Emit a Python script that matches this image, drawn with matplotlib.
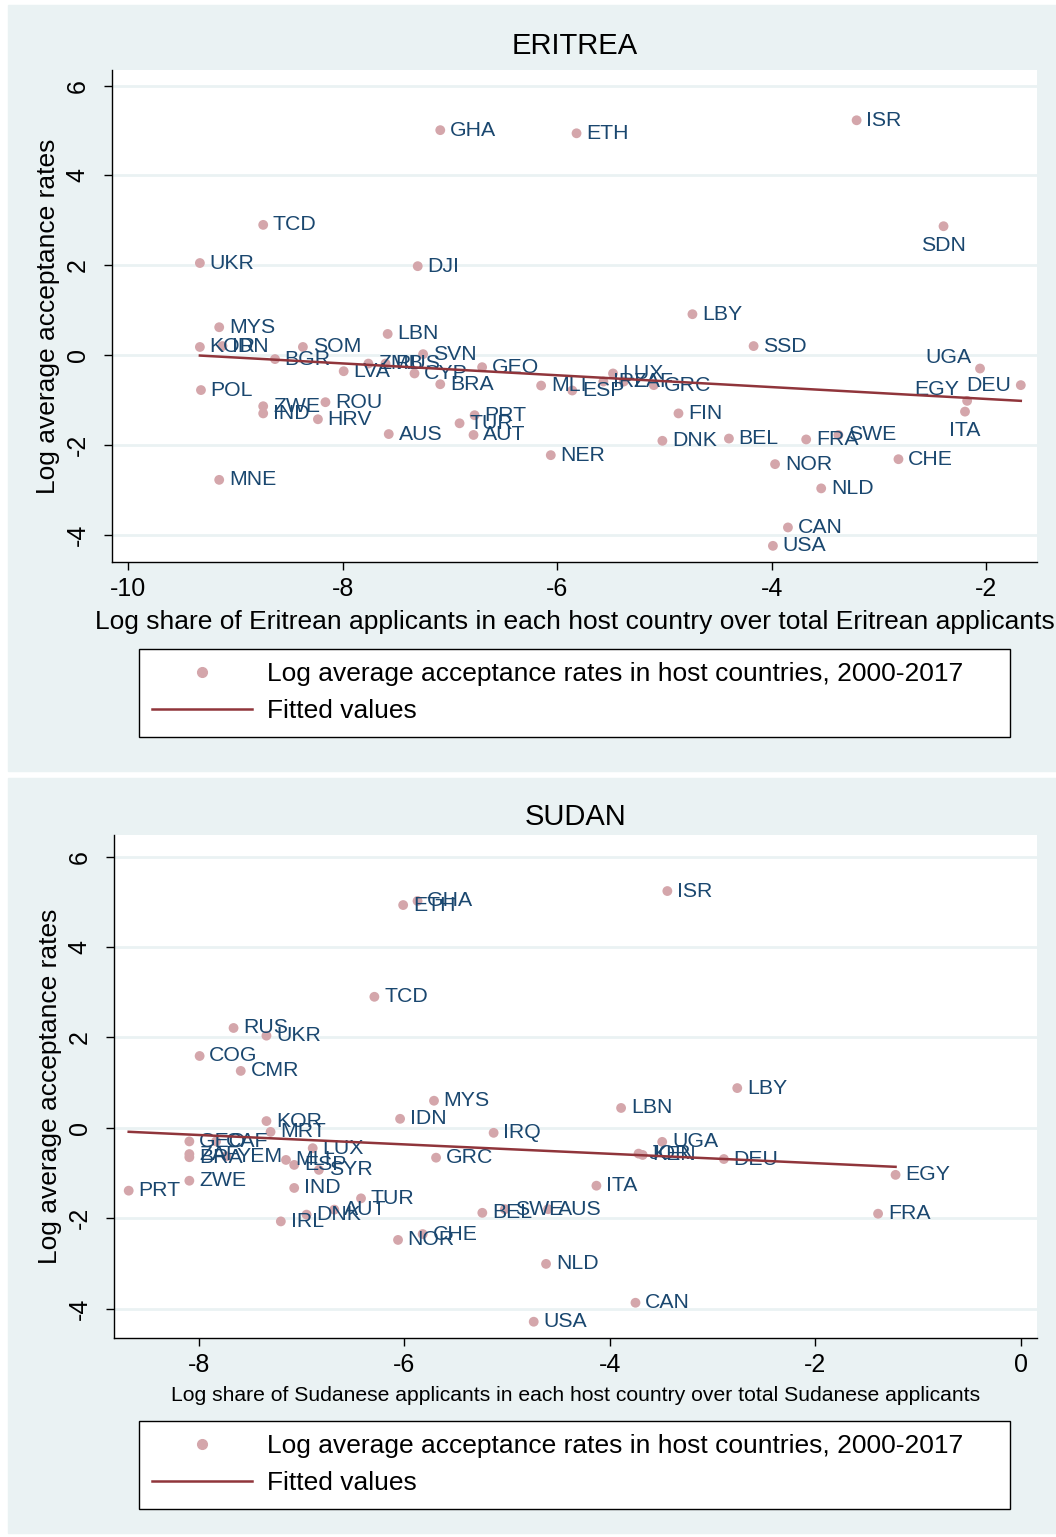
import numpy as np
import matplotlib
matplotlib.use("Agg")
import matplotlib.pyplot as plt
from matplotlib.patches import Rectangle
from matplotlib.lines import Line2D

plt.rcParams['font.family'] = ['Liberation Sans', 'DejaVu Sans']
plt.rcParams['axes.unicode_minus'] = False

# ---------------- data: ERITREA ----------------
eri_codes = ["GHA", "ETH", "ISR", "TCD", "SDN", "UKR", "DJI", "LBY", "MYS", "LBN",
             "SSD", "KOR", "IDN", "SOM", "BGR", "LVA", "ZMB", "RUS", "SVN", "CYP",
             "BRA", "GEO", "MLI", "ESP", "LUX", "IRL", "ZAF", "GRC", "PRT", "TUR",
             "AUT", "AUS", "NER", "FIN", "DNK", "BEL", "POL", "ZWE", "IND", "ROU",
             "HRV", "MNE", "UGA", "DEU", "EGY", "ITA", "FRA", "SWE", "NOR", "CHE",
             "NLD", "CAN", "USA"]
eri_x = [-7.09, -5.82, -3.21, -8.74, -2.40, -9.33, -7.30, -4.74, -9.15, -7.58,
         -4.17, -9.33, -9.12, -8.37, -8.63, -7.99, -7.76, -7.60, -7.25, -7.33,
         -7.09, -6.70, -6.15, -5.86, -5.48, -5.57, -5.38, -5.10, -6.77, -6.91,
         -6.78, -7.57, -6.06, -4.87, -5.02, -4.40, -9.32, -8.74, -8.74, -8.16,
         -8.23, -9.15, -2.06, -1.68, -2.18, -2.20, -3.68, -3.38, -3.97, -2.82,
         -3.54, -3.85, -3.99]
eri_y = [5.01, 4.94, 5.23, 2.90, 2.87, 2.05, 1.98, 0.91, 0.62, 0.47,
         0.20, 0.18, 0.20, 0.18, -0.09, -0.36, -0.19, -0.19, 0.02, -0.41,
         -0.65, -0.27, -0.68, -0.79, -0.41, -0.59, -0.59, -0.67, -1.34, -1.52,
         -1.78, -1.76, -2.23, -1.30, -1.91, -1.86, -0.78, -1.14, -1.30, -1.05,
         -1.43, -2.78, -0.30, -0.67, -1.02, -1.26, -1.88, -1.78, -2.43, -2.32,
         -2.97, -3.84, -4.25]

# ---------------- data: SUDAN ----------------
sdn_codes = ["ISR", "ETH", "GHA", "TCD", "RUS", "UKR", "COG", "CMR", "LBY", "MYS",
             "LBN", "IDN", "KOR", "MRT", "IRQ", "UGA", "JOR", "KEN", "DEU", "GRC",
             "ITA", "EGY", "FRA", "BEL", "SWE", "AUS", "NOR", "CHE", "NLD", "CAN",
             "USA", "GEO", "CAF", "ZAF", "BRA", "YEM", "ZWE", "PRT", "MLI", "ESP",
             "LUX", "SYR", "IND", "IRL", "DNK", "AUT", "TUR"]
sdn_x = [-3.44, -6.01, -5.87, -6.29, -7.66, -7.34, -7.99, -7.59, -2.76, -5.71,
         -3.89, -6.04, -7.34, -7.30, -5.13, -3.49, -3.72, -3.68, -2.89, -5.69,
         -4.13, -1.22, -1.39, -5.24, -5.02, -4.60, -6.06, -5.82, -4.62, -3.75,
         -4.74, -8.09, -7.83, -8.09, -8.09, -7.73, -8.09, -8.68, -7.15, -7.07,
         -6.89, -6.83, -7.07, -7.20, -6.95, -6.68, -6.42]
sdn_y = [5.24, 4.93, 5.02, 2.90, 2.21, 2.04, 1.59, 1.26, 0.88, 0.60,
         0.44, 0.20, 0.15, -0.09, -0.11, -0.31, -0.57, -0.60, -0.69, -0.66,
         -1.28, -1.04, -1.90, -1.88, -1.80, -1.80, -2.48, -2.35, -3.01, -3.87,
         -4.29, -0.30, -0.30, -0.58, -0.65, -0.63, -1.17, -1.39, -0.71, -0.82,
         -0.45, -0.93, -1.33, -2.07, -1.92, -1.81, -1.56]

yticks = [-4, -2, 0, 2, 4, 6]
eri_xticks = [-10, -8, -6, -4, -2]
sdn_xticks = [-8, -6, -4, -2, 0]

ytitle = "Log average acceptance rates"
eri_xtitle = "Log share of Eritrean applicants in each host country over total Eritrean applicants"
sdn_xtitle = "Log share of Sudanese applicants in each host country over total Sudanese applicants"
leg_labels = ["Log average acceptance rates in host countries, 2000-2017", "Fitted values"]

# label placements (non-default positions)
eri_pos = {"SDN": "b", "ITA": "b", "UGA": "ul", "EGY": "ul", "DEU": "l"}
sdn_pos = {}

# ---------------- styling ----------------
W, H = 1056, 1537
BG = "#EAF2F3"
MARK = "#D4A6AB"
TXT = "#1A476F"
FIT = "#90353B"

fig = plt.figure(figsize=(W / 100, H / 100), dpi=100)
fig.patch.set_facecolor("white")


def fx(px):
    return px / W


def fy(py):
    return 1 - py / H


# panel backgrounds
fig.patches.append(Rectangle((fx(8), fy(771)), fx(1056 - 8), (771 - 5) / H,
                             transform=fig.transFigure, color=BG, zorder=-10))
fig.patches.append(Rectangle((fx(8), fy(1533)), fx(1056 - 8), (1533 - 778) / H,
                             transform=fig.transFigure, color=BG, zorder=-10))


def offs(p):
    if p == "b":
        return (0, -7), "center", "top"
    if p == "ul":
        return (-6, 8), "right", "center"
    if p == "l":
        return (-7, 0), "right", "center"
    return (7, 0), "left", "center"


def panel(box, xlim, ylim, xticks, codes, xs, ys, pos, title, title_y, xtitle,
          xtitle_size, legbox):
    l, t, r, b = box
    ax = fig.add_axes([fx(l), fy(b), fx(r - l), (b - t) / H])
    ax.set_zorder(1)
    ax.set_facecolor("white")
    ax.set_xlim(*xlim)
    ax.set_ylim(*ylim)
    ax.set_yticks(yticks)
    ax.set_xticks(xticks)
    ax.set_yticklabels([str(v) for v in yticks])
    ax.set_xticklabels([str(v) for v in xticks])
    for s in ["top", "right"]:
        ax.spines[s].set_visible(False)
    for s in ["left", "bottom"]:
        ax.spines[s].set_linewidth(1.0)
        ax.spines[s].set_color("black")
    ax.tick_params(axis="both", length=6, width=1.0, labelsize=18, colors="black")
    ax.tick_params(axis="y", labelrotation=90, pad=10)
    for lab in ax.get_yticklabels():
        lab.set_va("center")
    ax.tick_params(axis="x", pad=5)
    ax.yaxis.grid(True, color=BG, linewidth=2.0)
    ax.set_axisbelow(True)

    xs = np.array(xs)
    ys = np.array(ys)
    ax.scatter(xs, ys, s=50, color=MARK, edgecolors="none", zorder=3)
    for c, x, y in zip(codes, xs, ys):
        o, ha, va = offs(pos.get(c, "r"))
        ax.annotate(c, (x, y), xytext=o, textcoords="offset points", ha=ha, va=va,
                    fontsize=15.3, color=TXT, zorder=4)
    k, c0 = np.polyfit(xs, ys, 1)
    xx = np.array([xs.min(), xs.max()])
    ax.plot(xx, c0 + k * xx, color=FIT, linewidth=1.8, zorder=5)

    ax.set_ylabel(ytitle, fontsize=19, labelpad=4)
    ax.set_xlabel(xtitle, fontsize=xtitle_size, labelpad=6)
    fig.text(fx((l + r) / 2), fy(title_y), title, fontsize=21, ha="center",
             va="center")

    handles = [Line2D([], [], marker="o", linestyle="none", color=MARK, markersize=7),
               Line2D([], [], color=FIT, linewidth=1.8)]
    L, T, R, B = legbox
    leg = ax.legend(handles, leg_labels, loc="upper left",
                    bbox_to_anchor=(fx(L), fy(B), fx(R - L), (B - T) / H),
                    bbox_transform=fig.transFigure, mode="expand", frameon=True,
                    fancybox=False, edgecolor="black", facecolor="white",
                    framealpha=1.0, fontsize=19,
                    handlelength=3.8, handletextpad=0.55, labelspacing=0.5,
                    borderpad=0.5, borderaxespad=0)
    leg.get_frame().set_linewidth(1.0)
    return ax


panel((112, 70, 1037, 562), (-10.149, -1.529), (-4.61, 6.35), eri_xticks,
      eri_codes, eri_x, eri_y, eri_pos, "ERITREA", 46, eri_xtitle, 19,
      (139, 649, 1010, 737))
panel((114, 835, 1037, 1338), (-8.823, 0.156), (-4.65, 6.48), sdn_xticks,
      sdn_codes, sdn_x, sdn_y, sdn_pos, "SUDAN", 817, sdn_xtitle, 15.2,
      (139, 1421, 1010, 1507))

fig.savefig("out.png", dpi=100)
